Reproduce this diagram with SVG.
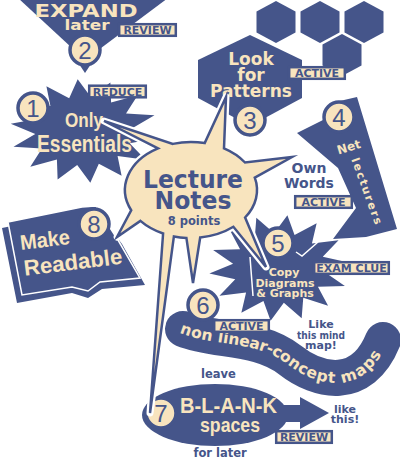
<svg xmlns="http://www.w3.org/2000/svg" width="400" height="460" viewBox="0 0 400 460">
<defs>
<style>
.b{fill:#45558a}
.c{fill:#f8e4be}
.f{font-family:"DejaVu Sans",Verdana,sans-serif;font-weight:bold;text-anchor:middle}
.g{font-family:"Liberation Sans",Arial,sans-serif;font-weight:bold;text-anchor:middle}
.tag rect{fill:#f8e4be;stroke:#45558a;stroke-width:2.5}
.tag text{font-family:"DejaVu Sans",Verdana,sans-serif;font-weight:bold;font-size:11px;fill:#45558a;text-anchor:middle}
.num circle{fill:#f8e4be;stroke:#45558a;stroke-width:3.5}
.num text{font-family:"Liberation Sans",Arial,sans-serif;font-size:24px;fill:#45558a;text-anchor:middle}
.tick{fill:none;stroke:#fff;stroke-width:1.5}
</style>
<polygon id="hex" points="0,-21 19.5,-10.5 19.5,10.5 0,21 -19.5,10.5 -19.5,-10.5"/>
<polygon id="star" points="100,0 64.4,14.7 90.1,43.4 51.6,41.1 62.3,78.2 28.6,59.5 22.3,97.5 0,66 -22.3,97.5 -28.6,59.5 -62.3,78.2 -51.6,41.1 -90.1,43.4 -64.4,14.7 -100,0 -64.4,-14.7 -90.1,-43.4 -51.6,-41.1 -62.3,-78.2 -28.6,-59.5 -22.3,-97.5 0,-66 22.3,-97.5 28.6,-59.5 62.3,-78.2 51.6,-41.1 90.1,-43.4 64.4,-14.7"/>
<path id="wave" d="M183 329 C215 342 258 335 290 360 C318 382 362 392 383 340"/>
<path id="wavetext" d="M181 328 C215 342 258 335 290 360 C318 382 362 392 383 340 L392 318"/>
<path id="callout" d="M158 148.4 L104 121 L172.8 143.9 A66 48 0 0 1 204.7 143.1 L226 97 L224 148.4 A66 48 0 0 1 245 162.5 L292 157 L254.8 177.6 A66 48 0 0 1 245.1 217.5 L266 267 L233.4 226.8 A66 48 0 0 1 200.2 237.5 L193 283 L186.4 237.9 A66 48 0 0 1 173.9 236.4 L150 413 L163.1 233.5 A66 48 0 0 1 140.4 220.9 L117 237 L131.2 210.3 A66 48 0 0 1 158 148.4 Z"/>
</defs>
<rect width="400" height="460" fill="#fff"/>

<g id="node-expand">
<polygon class="b" points="18,-2 168,-2 85,60"/>
<polygon class="b" points="79,64 91,64 85,73"/>
<text class="f c" x="86" y="17" font-size="17" textLength="103" lengthAdjust="spacingAndGlyphs">EXPAND</text>
<text class="f c" x="87" y="30" font-size="14" textLength="45" lengthAdjust="spacingAndGlyphs">later</text>
<g class="num"><circle cx="85" cy="50" r="15"/><text x="85" y="58.5">2</text></g>
<g class="tag"><rect x="119.2" y="24.2" width="56.6" height="11.6"/><text x="147.5" y="34">REVIEW</text></g>
</g>

<g id="node-essentials">
<use href="#star" class="b" transform="translate(84,131) scale(0.74,0.52) rotate(8)"/>
<text class="g c" x="84" y="127" font-size="21" textLength="38" lengthAdjust="spacingAndGlyphs">Only</text>
<text class="g c" x="84.5" y="152" font-size="23" textLength="95" lengthAdjust="spacingAndGlyphs">Essentials</text>
<g class="num"><circle cx="33" cy="108" r="15"/><text x="33" y="116.5">1</text></g>
<g class="tag"><rect x="89.2" y="85.7" width="56.6" height="11.6"/><text x="117.5" y="95.5">REDUCE</text></g>
</g>

<g id="node-patterns">
<use href="#hex" class="b" x="276" y="22"/>
<use href="#hex" class="b" x="320" y="22"/>
<use href="#hex" class="b" x="364" y="22"/>
<use href="#hex" class="b" x="342" y="55"/>
<polygon class="b" points="250,35 302,60 302,98 250,126 198,98 198,60"/>
<text class="f c" x="251" y="65" font-size="17">Look</text>
<text class="f c" x="251" y="81" font-size="17">for</text>
<text class="f c" x="251" y="97" font-size="17">Patterns</text>
<g class="tag"><rect x="289.2" y="67.2" width="55.6" height="11.6"/><text x="317" y="77">ACTIVE</text></g>
<g class="num"><circle cx="250" cy="120" r="15"/><text x="250" y="128.5">3</text></g>
</g>

<g id="node-own-words">
<polygon class="b" points="297,133 327,118 331,103 357,97 397,229 366,237 333,239 356,208 338,168"/>
<text class="f c" font-size="12" transform="translate(350,151) rotate(-17)">Net</text>
<text class="f c" font-size="11" textLength="70" lengthAdjust="spacing" transform="translate(367,191) rotate(70)" y="4">lecturers</text>
<g class="num"><circle cx="339" cy="117" r="15"/><text x="339" y="125.5">4</text></g>
<text class="f b" x="309" y="173" font-size="14">Own</text>
<text class="f b" x="309" y="188" font-size="14">Words</text>
<g class="tag"><rect x="295.2" y="196.2" width="56.6" height="11.6"/><text x="323.5" y="206">ACTIVE</text></g>
</g>

<g id="node-readable">
<polygon class="b" points="2,228 80,212 96,210 122,244 145,285 102,289 88,298 72,293 17,303"/>
<polygon class="b" points="8,222 82,207 96,206 118,240 140,278 100,282 88,291 72,287 22,295" stroke="#fff" stroke-width="1.5"/>
<g transform="rotate(-7 70 255)">
<text class="g c" x="47" y="244" font-size="21" textLength="50" lengthAdjust="spacingAndGlyphs">Make</text>
<text class="g c" x="72" y="270" font-size="22" textLength="99" lengthAdjust="spacingAndGlyphs">Readable</text>
</g>
<g class="num"><circle cx="94" cy="224" r="15"/><text x="94" y="232.5">8</text></g>
</g>

<g id="node-diagrams">
<use href="#star" class="b" transform="translate(279,268) scale(0.7,0.53) rotate(-6)"/>
<path class="tick" d="M250 257 L253 296 M296 252 L302 256 L318 242"/>
<text class="f c" x="284" y="276" font-size="11">Copy</text>
<text class="f c" x="285" y="286.5" font-size="11">Diagrams</text>
<text class="f c" x="285" y="297" font-size="11">&amp; Graphs</text>
<g class="num"><circle cx="278" cy="243" r="15"/><text x="278" y="251.5">5</text></g>
<g class="tag"><rect x="314.2" y="262.2" width="74.6" height="11.6"/><text x="351.5" y="272">EXAM CLUE</text></g>
</g>

<g id="node-nonlinear">
<use href="#wave" fill="none" stroke="#45558a" stroke-width="36" stroke-linecap="round"/>
<text class="c" font-family="DejaVu Sans, Verdana, sans-serif" font-weight="bold" font-size="15.5" dominant-baseline="central"><textPath href="#wavetext">non linear-concept maps</textPath></text>
<g class="num"><circle cx="203" cy="305" r="15"/><text x="203" y="313.5">6</text></g>
<g class="tag"><rect x="214.2" y="320.2" width="54.6" height="11.6"/><text x="241.5" y="330">ACTIVE</text></g>
<text class="f b" x="321" y="328" font-size="11">Like</text>
<text class="f b" x="321" y="338.5" font-size="11" textLength="48" lengthAdjust="spacingAndGlyphs">this mind</text>
<text class="f b" x="321" y="349" font-size="11">map!</text>
</g>

<g id="node-blank">
<ellipse class="b" cx="215" cy="415" rx="73" ry="31"/>
<rect class="b" x="282" y="405" width="20" height="17"/>
<polygon class="b" points="300,397 329,413 300,429"/>
<text class="g c" x="228.5" y="413" font-size="22" textLength="97" lengthAdjust="spacingAndGlyphs">B-L-A-N-K</text>
<text class="g c" x="230" y="432" font-size="21" textLength="60" lengthAdjust="spacingAndGlyphs">spaces</text>
<g class="num"><circle cx="161" cy="413" r="15"/><text x="161" y="421.5">7</text></g>
<text class="f b" x="218.5" y="378" font-size="11.5">leave</text>
<text class="f b" x="220" y="457" font-size="11.5">for later</text>
<text class="f b" x="345" y="413" font-size="11">like</text>
<text class="f b" x="345" y="423" font-size="11">this!</text>
<g class="tag"><rect x="276.2" y="431.2" width="55.6" height="11.6"/><text x="304" y="441">REVIEW</text></g>
</g>

<g id="node-lecture-notes">
<use href="#callout" fill="none" stroke="#fff" stroke-width="7" stroke-linejoin="round"/>
<use href="#callout" fill="#f8e4be" stroke="#45558a" stroke-width="2.5" stroke-linejoin="miter" stroke-miterlimit="6"/>
<text class="f b" x="193" y="188" font-size="25" textLength="100" lengthAdjust="spacingAndGlyphs">Lecture</text>
<text class="f b" x="193" y="209" font-size="25" textLength="77" lengthAdjust="spacingAndGlyphs">Notes</text>
<text class="f b" x="194" y="225" font-size="11.5">8 points</text>
</g>
</svg>
